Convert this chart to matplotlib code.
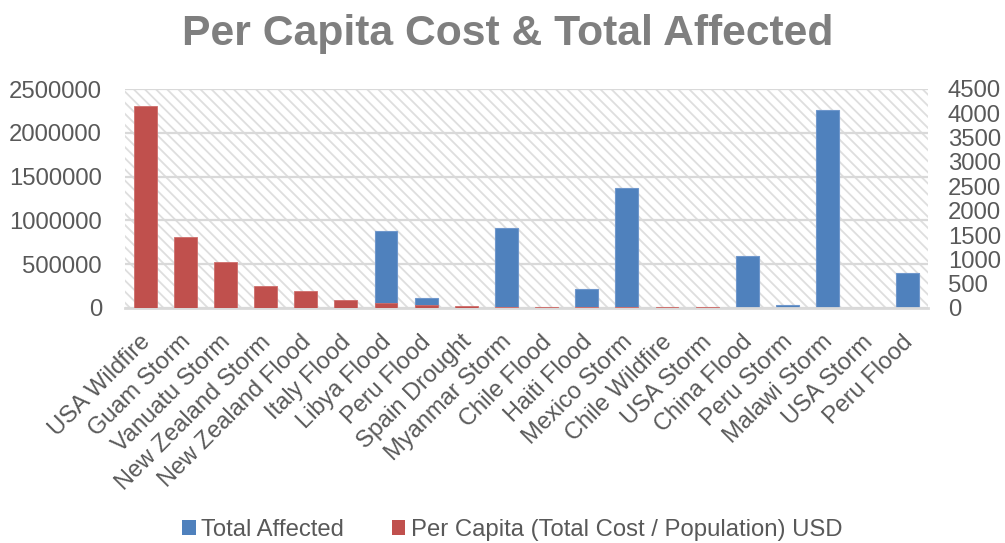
import matplotlib
matplotlib.use("Agg")
import matplotlib.pyplot as plt
import matplotlib.transforms as mtransforms
from matplotlib.patches import Rectangle, Patch
import numpy as np

plt.rcParams['font.family'] = ['Liberation Sans', 'DejaVu Sans']
plt.rcParams['hatch.linewidth'] = 1.3

events = ["USA Wildfire", "Guam Storm", "Vanuatu Storm", "New Zealand Storm",
          "New Zealand Flood", "Italy Flood", "Libya Flood", "Peru Flood",
          "Spain Drought", "Myanmar Storm", "Chile Flood", "Haiti Flood",
          "Mexico Storm", "Chile Wildfire", "USA Storm", "China Flood",
          "Peru Storm", "Malawi Storm", "USA Storm", "Peru Flood"]

total_affected = [0, 0, 0, 0, 0, 0, 875000, 118000, 0, 908000, 0, 217000,
                  1366000, 0, 0, 595000, 38000, 2263000, 0, 404000]

per_capita_usd = [4155, 1450, 940, 460, 357, 157, 103, 54, 41, 28, 25, 28,
                  22, 20, 14, 0, 0, 0, 0, 0]

left_ticks = [0, 500000, 1000000, 1500000, 2000000, 2500000]
right_ticks = [0, 500, 1000, 1500, 2000, 2500, 3000, 3500, 4000, 4500]

BLUE = "#4f81bd"
RED = "#c0504d"
GRID = "#d9d9d9"
TEXT = "#595959"

fig = plt.figure(figsize=(10.05, 5.43), dpi=100)
ax = fig.add_axes([125 / 1005, 235 / 543, 803 / 1005, 219 / 543])
ax2 = ax.twinx()

x = np.arange(len(events))
w = 0.57

# hatched plot-area background
ax.patch.set_visible(False)
ax.add_patch(Rectangle((0, 0), 1, 1, transform=ax.transAxes, facecolor="white",
                       edgecolor="#dedede", hatch="\\\\\\", lw=0, zorder=0.1))

ax.set_axisbelow(True)
ax.yaxis.grid(True, color=GRID, lw=1.6, zorder=0.5)
ax.bar(x, total_affected, width=w, color=BLUE, edgecolor="#6f97cc", lw=0.8, zorder=2)
ax2.bar(x, per_capita_usd, width=w, color=RED, edgecolor="#cf6e6b", lw=0.6, zorder=2)

ax.set_xlim(-0.5, len(events) - 0.5)
ax.set_ylim(0, 2500000)
ax2.set_ylim(0, 4500)
ax.set_yticks(left_ticks)
ax.set_yticklabels([str(v) for v in left_ticks])
ax2.set_yticks(right_ticks)
ax2.set_yticklabels([str(v) for v in right_ticks])

ax.set_xticks(x)
ax.set_xticklabels(events, rotation=45, ha="right", va="top",
                   rotation_mode="anchor", fontsize=17, color=TEXT)
ax.tick_params(axis="x", length=0, pad=15)
shift = mtransforms.ScaledTranslation(-6 / 100, -2 / 100, fig.dpi_scale_trans)
for lbl in ax.get_xticklabels():
    lbl.set_transform(lbl.get_transform() + shift)
ax.tick_params(axis="y", length=0, pad=16.5, labelsize=17.2, labelcolor=TEXT)
ax2.tick_params(axis="y", length=0, pad=14.4, labelsize=17.2, labelcolor=TEXT)

for a in (ax, ax2):
    for s in ("top", "left", "right", "bottom"):
        a.spines[s].set_visible(False)
ax.axhline(0, color=GRID, lw=2, zorder=3, clip_on=False)

fig.text(0.505, 0.938, "Per Capita Cost & Total Affected", ha="center", va="center",
         fontsize=30.7, fontweight="bold", color="#7f7f7f")

handles = [Patch(facecolor=BLUE), Patch(facecolor=RED)]
fig.legend(handles, ["Total Affected", "Per Capita (Total Cost / Population) USD"],
           loc="center", bbox_to_anchor=(0.51, 0.024), ncol=2, frameon=False,
           fontsize=17.2, handlelength=0.55, handleheight=0.55, handletextpad=0.25,
           columnspacing=2.0, labelcolor=TEXT, borderpad=0)

fig.savefig("out.png", dpi=100)
